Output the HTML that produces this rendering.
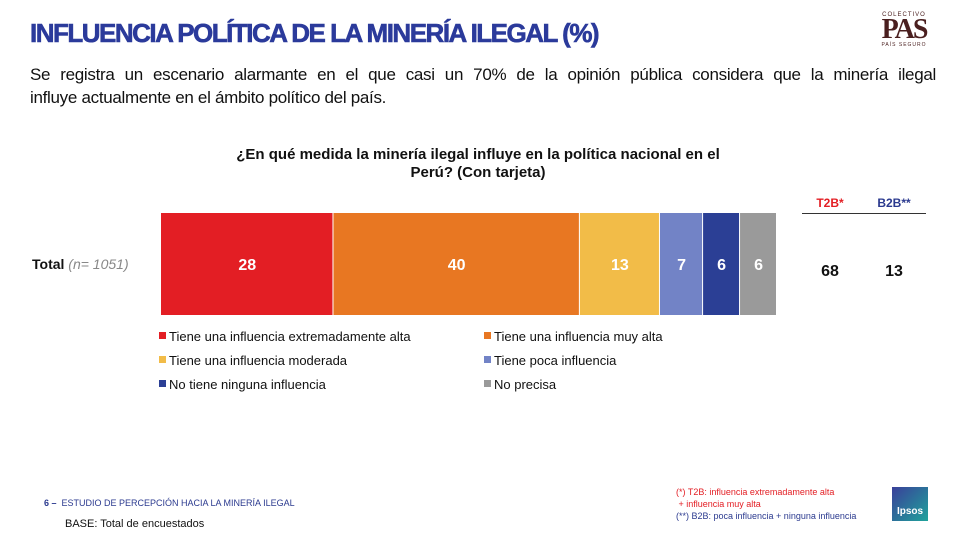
<!DOCTYPE html>
<html><head><meta charset="utf-8">
<style>
body{margin:0;width:960px;height:540px;background:#fff;font-family:"Liberation Sans",sans-serif;position:relative;overflow:hidden}
.a{position:absolute}
</style></head><body>
<div class="a" style="left:30px;top:18px;font-size:26px;font-weight:bold;color:#2b3a9b;letter-spacing:-1.5px;white-space:nowrap;-webkit-text-stroke:0.6px #2b3a9b">INFLUENCIA POLÍTICA DE LA MINERÍA ILEGAL (%)</div>
<div class="a" style="left:876px;top:12px;width:56px;text-align:center;color:#4a1f1f">
<div style="font-size:6px;letter-spacing:1px">COLECTIVO</div>
<div style="font-family:'Liberation Serif',serif;font-weight:bold;font-size:28px;line-height:24px;letter-spacing:-2px">PAS</div>
<div style="font-size:5px;letter-spacing:1px">PAÍS SEGURO</div></div>
<div class="a" style="left:30px;top:63px;width:906px;font-size:17px;letter-spacing:-0.3px;line-height:23px;color:#111">
<div style="text-align:justify;text-align-last:justify;white-space:nowrap">Se registra un escenario alarmante en el que casi un 70% de la opinión pública considera que la minería ilegal</div>
<div>influye actualmente en el ámbito político del país.</div></div>
<div class="a" style="left:180px;top:146px;width:596px;text-align:center;font-size:15px;font-weight:bold;line-height:18px;color:#111">¿En qué medida la minería ilegal influye en la política nacional en el<br>Perú? (Con tarjeta)</div>
<div class="a" style="left:32px;top:256px;font-size:14px;font-weight:bold;color:#111">Total <span style="font-weight:normal;font-style:italic;color:#888">(n= 1051)</span></div>
<svg class="a" style="left:0;top:0" width="960" height="540" id="chart"></svg>
<div class="a" style="left:804px;top:196px;width:52px;text-align:center;font-size:12px;font-weight:bold;color:#e31e24">T2B*</div>
<div class="a" style="left:866px;top:196px;width:56px;text-align:center;font-size:12px;font-weight:bold;color:#2b3a8f">B2B**</div>
<div class="a" style="left:802px;top:213px;width:124px;height:1px;background:#333"></div>
<div class="a" style="left:804px;top:263px;width:52px;text-align:center;font-size:16px;font-weight:bold;color:#111">68</div>
<div class="a" style="left:866px;top:263px;width:56px;text-align:center;font-size:16px;font-weight:bold;color:#111">13</div>
<div class="a" style="left:44px;top:498px;font-size:9px;color:#2b3a8f"><b>6 –</b> &nbsp;ESTUDIO DE PERCEPCIÓN HACIA LA MINERÍA ILEGAL</div>
<div class="a" style="left:65px;top:518px;font-size:11px;color:#111">BASE: Total de encuestados</div>
<div class="a" style="left:676px;top:486px;font-size:9px;line-height:12px;color:#e31e24">(*) T2B: influencia extremadamente alta<br>&nbsp;+ influencia muy alta<br><span style="color:#2b3a8f">(**) B2B: poca influencia + ninguna influencia</span></div>
<div class="a" style="left:892px;top:487px;width:36px;height:34px;background:linear-gradient(135deg,#3a3f9a,#1fa39b);color:#fff;font-size:10px;font-weight:bold;text-align:center;line-height:50px">Ipsos</div>
<script>
const categories=["Tiene una influencia extremadamente alta","Tiene una influencia muy alta","Tiene una influencia moderada","Tiene poca influencia","No tiene ninguna influencia","No precisa"];
const values=[28,40,13,7,6,6];
const colors=["#e31e24","#e87722","#f2bc48","#7283c6","#2b3f95","#9a9a9a"];
const svg=document.getElementById('chart');
const NS="http://www.w3.org/2000/svg";
const x0=161,x1=777,y0=213,h=102;
const total=values.reduce((a,b)=>a+b,0);
const sx=v=>v/total*(x1-x0);
let cum=0;
values.forEach((v,i)=>{
  const r=document.createElementNS(NS,'rect');
  r.setAttribute('x',x0+sx(cum));r.setAttribute('y',y0);r.setAttribute('width',Math.max(0,sx(v)-1));r.setAttribute('height',h);r.setAttribute('fill',colors[i]);
  
  
  svg.appendChild(r);
  const t=document.createElementNS(NS,'text');
  t.setAttribute('x',x0+sx(cum+v/2));t.setAttribute('y',y0+h/2+6);t.setAttribute('text-anchor','middle');
  t.setAttribute('font-size','16');t.setAttribute('font-weight','bold');t.setAttribute('fill','#fff');t.setAttribute('font-family','Liberation Sans, sans-serif');
  t.textContent=v;
  
  
  svg.appendChild(t);
  cum+=v;
});
categories.forEach((c,i)=>{
  const lx=i%2===0?159:484, ly=336+Math.floor(i/2)*24;
  const g=document.createElementNS(NS,'g');
  
  
  const s=document.createElementNS(NS,'rect');
  s.setAttribute('x',lx);s.setAttribute('y',ly-4);s.setAttribute('width',7);s.setAttribute('height',7);s.setAttribute('fill',colors[i]);
  const t=document.createElementNS(NS,'text');
  t.setAttribute('x',lx+10);t.setAttribute('y',ly+5);t.setAttribute('font-size','13');t.setAttribute('fill','#111');t.setAttribute('font-family','Liberation Sans, sans-serif');
  t.textContent=c;
  g.appendChild(s);g.appendChild(t);svg.appendChild(g);
});
</script>
</body></html>
